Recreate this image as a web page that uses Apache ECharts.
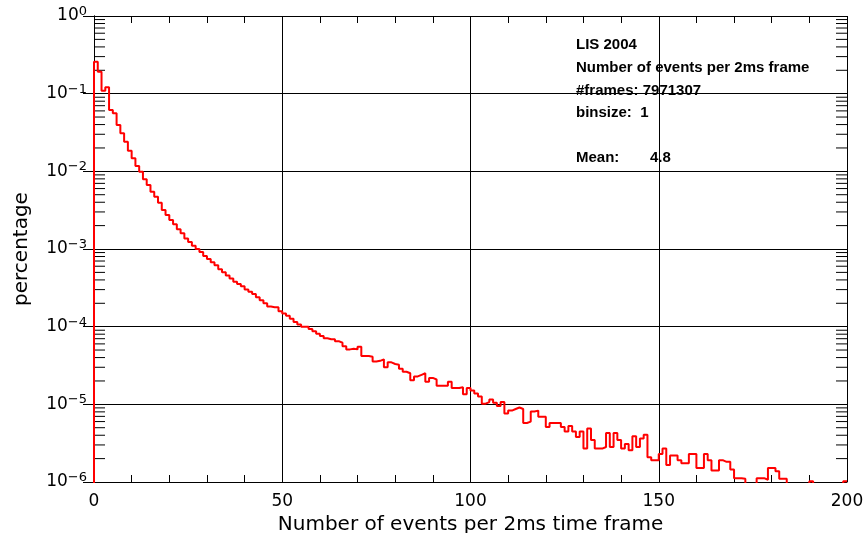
<!DOCTYPE html>
<html><head><meta charset="utf-8">
<script src="https://cdn.jsdelivr.net/npm/echarts@6/dist/echarts.min.js"></script>
<style>html,body{margin:0;padding:0;background:#fff}#c{width:865px;height:533px}</style>
</head><body><div id="c"></div>
<script>
// Histogram: fraction of frames per number of events (bin width 1, bins 0..199)
const percentages = [
  0.258, 0.192, 0.109, 0.121, 0.0617, 0.0558, 0.0395, 0.0309, 0.0241, 0.01845,
  0.01472, 0.01172, 0.00989, 0.00791, 0.00667, 0.00547, 0.00471, 0.00394, 0.00318, 0.00274,
  0.00236, 0.00208, 0.00179, 0.00159, 0.00137, 0.00123, 0.00110, 0.00100, 9.12e-4, 8.13e-4,
  7.41e-4, 6.76e-4, 6.17e-4, 5.50e-4, 5.01e-4, 4.57e-4, 4.17e-4, 3.80e-4, 3.55e-4, 3.31e-4,
  3.02e-4, 2.82e-4, 2.63e-4, 2.40e-4, 2.19e-4, 2.00e-4, 1.82e-4, 1.78e-4, 1.78e-4, 1.58e-4,
  1.48e-4, 1.38e-4, 1.26e-4, 1.15e-4, 1.07e-4, 1.00e-4, 1.00e-4, 9.3e-5, 8.7e-5, 8.1e-5,
  7.6e-5, 7.1e-5, 6.9e-5, 6.9e-5, 6.5e-5, 6.2e-5, 5.6e-5, 5.1e-5, 5.2e-5, 5.1e-5,
  5.5e-5, 4.2e-5, 4.2e-5, 4.1e-5, 3.55e-5, 3.63e-5, 3.8e-5, 3.0e-5, 3.47e-5, 3.31e-5,
  3.24e-5, 2.88e-5, 2.63e-5, 2.51e-5, 2.04e-5, 2.29e-5, 2.40e-5, 2.51e-5, 1.95e-5, 2.19e-5,
  2.09e-5, 1.74e-5, 1.74e-5, 1.74e-5, 1.95e-5, 1.62e-5, 1.62e-5, 1.66e-5, 1.35e-5, 1.62e-5,
  1.51e-5, 1.38e-5, 1.26e-5, 1.02e-5, 1.07e-5, 1.15e-5, 1.05e-5, 9.5e-6, 1.07e-5, 7.6e-6,
  8.3e-6, 8.7e-6, 9.1e-6, 8.7e-6, 5.75e-6, 6.0e-6, 8.1e-6, 8.3e-6, 6.9e-6, 6.9e-6,
  5.1e-6, 5.75e-6, 5.75e-6, 5.75e-6, 5.1e-6, 4.47e-6, 5.25e-6, 4.47e-6, 3.8e-6, 4.47e-6,
  2.69e-6, 4.9e-6, 3.47e-6, 2.69e-6, 2.69e-6, 2.82e-6, 4.27e-6, 2.82e-6, 4.27e-6, 3.47e-6,
  2.69e-6, 3.09e-6, 2.57e-6, 3.89e-6, 2.82e-6, 3.63e-6, 4.07e-6, 2.09e-6, 1.91e-6, 1.91e-6,
  2.29e-6, 2.69e-6, 1.66e-6, 2.19e-6, 2.19e-6, 1.91e-6, 1.74e-6, 1.74e-6, 2.29e-6, 2.29e-6,
  1.51e-6, 1.51e-6, 2.29e-6, 1.91e-6, 1.41e-6, 1.41e-6, 1.91e-6, 1.82e-6, 1.82e-6, 1.45e-6,
  1.12e-6, 1.12e-6, 1.10e-6, 0, 0, 0, 1.12e-6, 1.12e-6, 1.07e-6, 1.51e-6,
  1.51e-6, 1.38e-6, 1.10e-6, 1.10e-6, 0, 0, 0, 0, 0, 0,
  1.02e-6, 0, 0, 0, 0, 0, 0, 0, 0, 1.02e-6
];
const xTickValues = [0, 50, 100, 150, 200];
const yExponents = ['0', '−1', '−2', '−3', '−4', '−5', '−6'];
const minorFactors = [2, 3, 4, 5, 6, 7, 8, 9];
const infoLines = ['LIS 2004', 'Number of events per 2ms frame', '#frames: 7971307', 'binsize:  1'];
const meanLabel = 'Mean:';
const meanValue = '4.8';

const FLOOR = 1e-9; // zero-count bins fall below the plotted range
const lineData = [[0, FLOOR]];
percentages.forEach((v, i) => lineData.push([i, v > 0 ? v : FLOOR]));
lineData.push([percentages.length, percentages[percentages.length - 1]]);

const minorTickData = [];
for (let e = -6; e < 0; e++) minorFactors.forEach(k => minorTickData.push([0, k * Math.pow(10, e)]));

const chart = echarts.init(document.getElementById('c'), null, {renderer: 'canvas'});
const black = '#000';
const labelFont = 'DejaVu Sans';
const infoFont = 'bold 15px "Liberation Sans"';
chart.setOption({
  animation: false,
  backgroundColor: '#fff',
  grid: {left: 94, right: 18, top: 16, bottom: 51, containLabel: false, outerBoundsMode: 'none'},
  xAxis: [{
    type: 'value', min: 0, max: 200, interval: 50, position: 'bottom',
    name: 'Number of events per 2ms time frame', nameLocation: 'middle', nameGap: 31,
    nameTextStyle: {fontFamily: labelFont, fontSize: 20, color: black},
    axisLine: {show: true, lineStyle: {color: black, width: 1}},
    axisTick: {show: true, inside: true, length: 7, lineStyle: {color: black}},
    minorTick: {show: true, splitNumber: 5, length: 7, lineStyle: {color: black, width: 1}},
    splitLine: {show: true, lineStyle: {color: black, width: 1}},
    axisLabel: {fontFamily: labelFont, fontSize: 17, color: black, margin: 11,
      formatter: v => xTickValues.includes(v) ? String(v) : ''}
  }, {
    type: 'value', min: 0, max: 200, interval: 50, position: 'top',
    axisLine: {show: true, lineStyle: {color: black, width: 1}},
    axisTick: {show: true, inside: true, length: 7, lineStyle: {color: black}},
    minorTick: {show: true, splitNumber: 5, length: 7, lineStyle: {color: black, width: 1}},
    splitLine: {show: false}, axisLabel: {show: false}
  }],
  yAxis: [{
    type: 'log', logBase: 10, min: 1e-6, max: 1, splitNumber: 6, position: 'left',
    name: 'percentage', nameLocation: 'middle', nameGap: 62, nameRotate: 90,
    nameTextStyle: {fontFamily: labelFont, fontSize: 20, color: black},
    axisLine: {show: true, lineStyle: {color: black, width: 1}},
    axisTick: {show: true, inside: true, length: 11, lineStyle: {color: black}},
    splitLine: {show: true, lineStyle: {color: black, width: 1}},
    axisLabel: {
      margin: 7, color: black,
      formatter: v => {
        const e = Math.round(-Math.log10(v));
        return '{b|10}{s|' + yExponents[e] + '}';
      },
      rich: {
        b: {fontFamily: labelFont, fontSize: 17, lineHeight: 22, color: black, verticalAlign: 'middle'},
        s: {fontFamily: labelFont, fontSize: 13, lineHeight: 13, color: black, verticalAlign: 'top'}
      }
    }
  }, {
    type: 'log', logBase: 10, min: 1e-6, max: 1, splitNumber: 6, position: 'right',
    axisLine: {show: true, lineStyle: {color: black, width: 1}},
    axisTick: {show: true, inside: true, length: 11, lineStyle: {color: black}},
    splitLine: {show: false}, axisLabel: {show: false}
  }],
  series: [{
    type: 'custom', xAxisIndex: 0, yAxisIndex: 0, clip: false, silent: true,
    data: minorTickData,
    renderItem: (params, api) => {
      const v = api.value(1);
      const pl = api.coord([0, v]);
      const pr = api.coord([200, v]);
      const st = {stroke: black, lineWidth: 1};
      return {type: 'group', children: [
        {type: 'line', shape: {x1: pl[0], y1: pl[1], x2: pl[0] + 11, y2: pl[1]}, style: st},
        {type: 'line', shape: {x1: pr[0], y1: pr[1], x2: pr[0] - 11, y2: pr[1]}, style: st}
      ]};
    }
  }, {
    type: 'line', xAxisIndex: 0, yAxisIndex: 0, step: 'end', showSymbol: false, symbol: 'none',
    clip: true, data: lineData,
    lineStyle: {color: '#ff0000', width: 2}, z: 5
  }],
  graphic: [
    ...infoLines.map((t, i) => ({type: 'text', x: 576, y: [45, 68, 91, 113][i],
      style: {text: t, font: infoFont, fill: black, verticalAlign: 'middle'}, z: 10})),
    {type: 'text', x: 576, y: 158, style: {text: meanLabel, font: infoFont, fill: black, verticalAlign: 'middle'}, z: 10},
    {type: 'text', x: 650, y: 158, style: {text: meanValue, font: infoFont, fill: black, verticalAlign: 'middle'}, z: 10}
  ]
});
</script></body></html>
